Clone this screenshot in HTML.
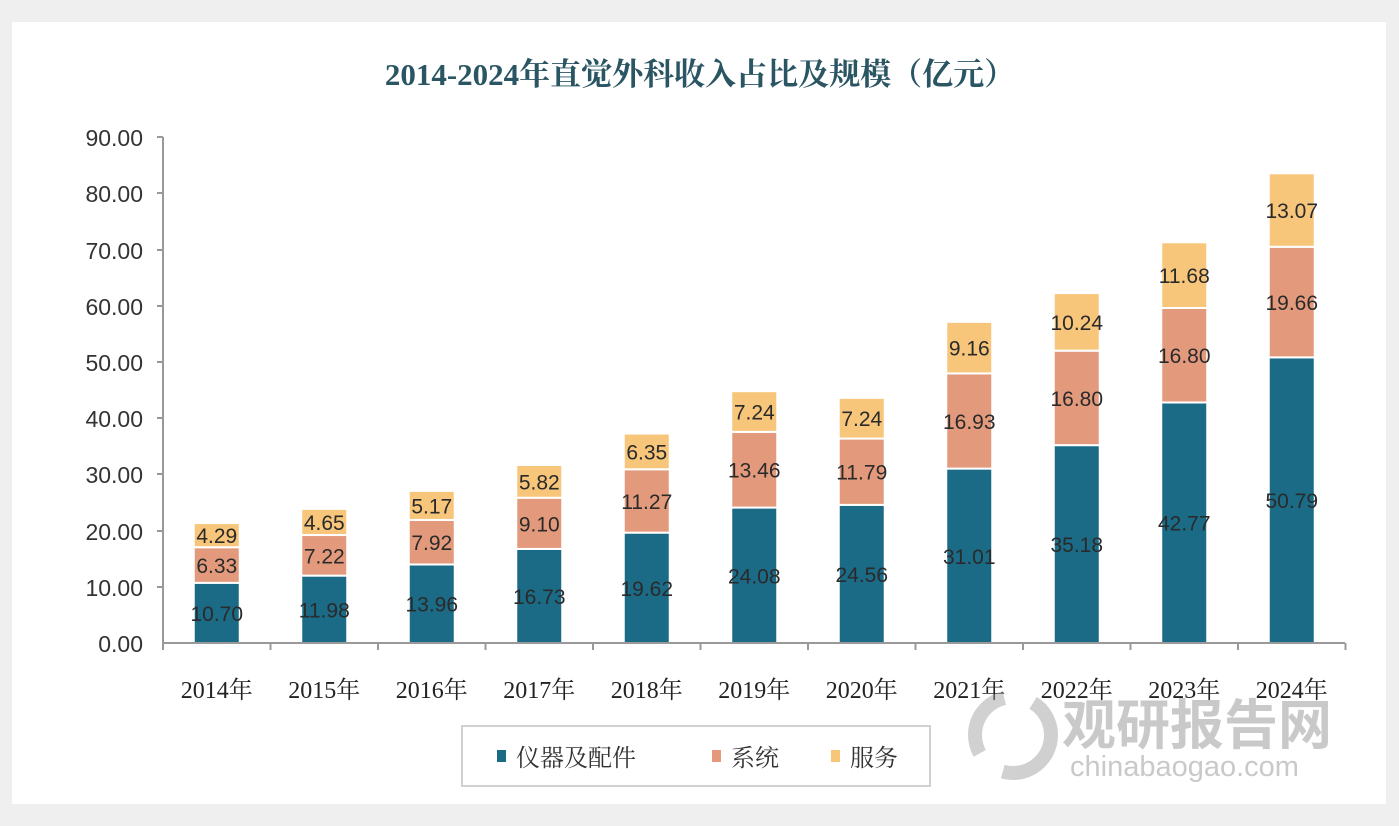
<!DOCTYPE html>
<html><head><meta charset="utf-8"><style>
html,body{margin:0;padding:0;background:#f2f2f2;}
svg{display:block;}
</style></head><body>
<svg width="1399" height="826" xmlns="http://www.w3.org/2000/svg">
<rect x="0" y="0" width="1399" height="826" fill="#efefef"/>
<rect x="12" y="22" width="1374" height="782" fill="#ffffff"/>
<text x="700" y="85" text-anchor="middle" font-family="Liberation Serif,'Noto Serif CJK SC',serif" font-size="31" font-weight="bold" fill="#2a5563">2014-2024年直觉外科收入占比及规模（亿元）</text>
<g font-family="Liberation Sans,sans-serif" font-size="23" fill="#333" text-anchor="end">
<text x="143" y="652">0.00</text><text x="143" y="596">10.00</text><text x="143" y="540">20.00</text><text x="143" y="483">30.00</text><text x="143" y="427">40.00</text><text x="143" y="371">50.00</text><text x="143" y="315">60.00</text><text x="143" y="259">70.00</text><text x="143" y="202">80.00</text><text x="143" y="146">90.00</text>
</g>
<line x1="163" y1="137" x2="163" y2="643" stroke="#999" stroke-width="2"/>
<g stroke="#999" stroke-width="2">
<line x1="157" y1="137" x2="163" y2="137"/><line x1="157" y1="193" x2="163" y2="193"/><line x1="157" y1="250" x2="163" y2="250"/><line x1="157" y1="306" x2="163" y2="306"/><line x1="157" y1="362" x2="163" y2="362"/><line x1="157" y1="418" x2="163" y2="418"/><line x1="157" y1="474" x2="163" y2="474"/><line x1="157" y1="531" x2="163" y2="531"/><line x1="157" y1="587" x2="163" y2="587"/>
</g>
<g id="bars"></g>
<line x1="163" y1="643" x2="1345" y2="643" stroke="#999" stroke-width="2"/>
<g id="ticks" stroke="#999" stroke-width="2"></g>
<g id="xl" font-family="Liberation Serif,'Noto Serif CJK SC',serif" font-size="24" fill="#222" text-anchor="middle"></g>
<rect x="462" y="726" width="468" height="60" fill="#fff" stroke="#d0d0d0" stroke-width="2"/>
<rect x="497" y="750" width="9" height="12" fill="#1b6a86"/>
<text x="516" y="766" font-family="'Noto Serif CJK SC',serif" font-size="24" fill="#333">仪器及配件</text>
<rect x="712" y="750" width="9" height="12" fill="#e39a7c"/>
<text x="731" y="766" font-family="'Noto Serif CJK SC',serif" font-size="24" fill="#333">系统</text>
<rect x="831" y="750" width="9" height="12" fill="#f7c67a"/>
<text x="850" y="766" font-family="'Noto Serif CJK SC',serif" font-size="24" fill="#333">服务</text>
<g opacity="0.45">
<circle cx="1013" cy="735" r="38" fill="none" stroke="#999" stroke-width="14" stroke-dasharray="70 30"/>
<text x="1062" y="744" font-family="'Noto Sans CJK SC',sans-serif" font-size="54" font-weight="bold" fill="#888">观研报告网</text>
<text x="1070" y="776" font-family="Liberation Sans,sans-serif" font-size="29" fill="#888">chinabaogao.com</text>
</g>
</svg>
<script>
var d=[[10.70,6.33,4.29],[11.98,7.22,4.65],[13.96,7.92,5.17],[16.73,9.10,5.82],[19.62,11.27,6.35],[24.08,13.46,7.24],[24.56,11.79,7.24],[31.01,16.93,9.16],[35.18,16.80,10.24],[42.77,16.80,11.68],[50.79,19.66,13.07]];
var c=["#1b6a86","#e39a7c","#f7c67a"];var ns="http://www.w3.org/2000/svg";
var b=document.getElementById("bars"),t=document.getElementById("ticks"),xl=document.getElementById("xl");
function el(p,n,a,tx){var e=document.createElementNS(ns,n);for(var k in a)e.setAttribute(k,a[k]);if(tx)e.textContent=tx;p.appendChild(e);return e;}
var k=5.624,step=107.5;
for(var i=0;i<11;i++){var cx=163+step*(i+0.5),y=643;
for(var j=0;j<3;j++){var h=d[i][j]*k;y-=h;
el(b,"rect",{x:cx-23,y:y,width:46,height:h,fill:c[j],stroke:"#fff","stroke-width":2});
el(b,"text",{x:cx,y:y+h/2+8,"text-anchor":"middle","font-family":"Liberation Sans,sans-serif","font-size":"21",fill:"#2a2a2a"},d[i][j].toFixed(2));}
el(xl,"text",{x:cx,y:698},(2014+i)+"年");}
for(var i=0;i<=11;i++){var x=163+step*i;el(t,"line",{x1:x,y1:643,x2:x,y2:650});}
</script>
</body></html>
